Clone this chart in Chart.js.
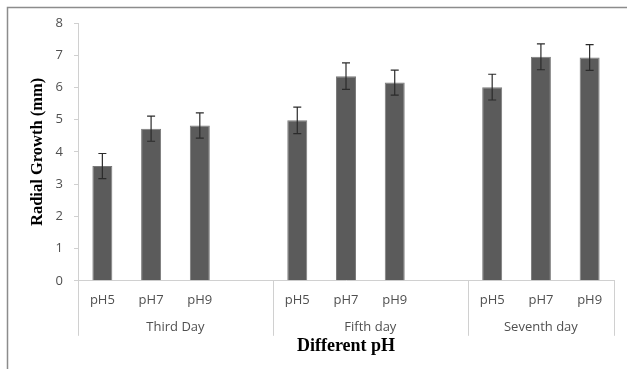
<!DOCTYPE html>
<html>
<head>
<meta charset="utf-8">
<script src="https://cdn.jsdelivr.net/npm/chart.js@4/dist/chart.umd.min.js"></script>
<style>
  html, body { margin: 0; padding: 0; background: #fff; }
  #wrap { width: 627px; height: 369px; position: relative; }
</style>
</head>
<body>
<div id="wrap"><canvas id="chart"></canvas></div>
<script>
// values
const groups = ["Third Day", "Fifth day", "Seventh day"];
const phLevels = ["pH5", "pH7", "pH9"];
const thirdDay = [3.56, 4.72, 4.82];
const fifthDay = [4.98, 6.35, 6.15];
const seventhDay = [6.01, 6.95, 6.93];
const thirdErr = [0.39, 0.39, 0.39];
const fifthErr = [0.41, 0.41, 0.39];
const seventhErr = [0.40, 0.40, 0.40];
const yTicks = [0, 1, 2, 3, 4, 5, 6, 7, 8];

// flatten with an empty slot between groups (like the Excel original)
const series = [thirdDay, fifthDay, seventhDay];
const errs = [thirdErr, fifthErr, seventhErr];
const labels = [], values = [], errors = [], spans = [];
series.forEach((vals, g) => {
  const start = labels.length;
  vals.forEach((v, i) => { labels.push(phLevels[i]); values.push(v); errors.push(errs[g][i]); });
  if (g < series.length - 1) { labels.push(""); values.push(null); errors.push(null); }
  spans.push([start, labels.length - 1]);
});

const axisGray = "#d0d0d0";
const textGray = "#505050";

const extras = {
  id: "extras",
  beforeDraw(chart) {
    const ctx = chart.ctx;
    ctx.save();
    ctx.strokeStyle = "#8c8c8c";
    ctx.lineWidth = 1.5;
    ctx.beginPath();
    ctx.moveTo(7.5, chart.height);
    ctx.lineTo(7.5, 7.5);
    ctx.lineTo(chart.width, 7.5);
    ctx.stroke();
    ctx.restore();
  },
  afterDraw(chart) {
    const ctx = chart.ctx;
    const x = chart.scales.x, y = chart.scales.y;
    const area = chart.chartArea;
    const half = (x.getPixelForValue(1) - x.getPixelForValue(0)) / 2;
    ctx.save();
    // group separators and labels
    ctx.strokeStyle = axisGray;
    ctx.lineWidth = 1;
    ctx.fillStyle = textGray;
    ctx.font = "13px 'Open Sans'";
    ctx.textAlign = "center";
    ctx.textBaseline = "middle";
    const edges = new Set();
    spans.forEach(([a, b], g) => {
      const left = x.getPixelForValue(a) - half;
      const right = x.getPixelForValue(b) + half;
      edges.add(Math.round(left)); edges.add(Math.round(right));
      ctx.fillText(groups[g], (left + right) / 2, area.bottom + 46);
    });
    edges.forEach(px => {
      ctx.beginPath();
      ctx.moveTo(px + 0.5, area.bottom);
      ctx.lineTo(px + 0.5, area.bottom + 55);
      ctx.stroke();
    });
    // error bars
    const meta = chart.getDatasetMeta(0);
    ctx.strokeStyle = "#2b2b2b";
    ctx.lineWidth = 1.2;
    meta.data.forEach((bar, i) => {
      if (values[i] == null) return;
      const top = y.getPixelForValue(values[i] + errors[i]);
      const bot = y.getPixelForValue(values[i] - errors[i]);
      ctx.beginPath();
      ctx.moveTo(bar.x, top); ctx.lineTo(bar.x, bot);
      ctx.moveTo(bar.x - 4, top); ctx.lineTo(bar.x + 4, top);
      ctx.moveTo(bar.x - 4, bot); ctx.lineTo(bar.x + 4, bot);
      ctx.stroke();
    });
    ctx.restore();
  }
};

new Chart(document.getElementById("chart"), {
  type: "bar",
  data: {
    labels: labels,
    datasets: [{
      data: values,
      backgroundColor: "#5b5b5b",
      borderColor: "#7a7a7a",
      borderWidth: 1,
      barPercentage: 0.41,
      categoryPercentage: 1
    }]
  },
  options: {
    responsive: true,
    maintainAspectRatio: false,
    animation: false,
    layout: { padding: { left: 0, top: 23, right: 13, bottom: 12 } },
    plugins: { legend: { display: false }, tooltip: { enabled: false } },
    scales: {
      x: {
        grid: { display: false, drawTicks: false },
        border: { display: true, color: axisGray, width: 1 },
        ticks: { color: textGray, font: { family: "'Open Sans'", size: 13 }, padding: 12, maxRotation: 0, autoSkip: false },
        title: {
          display: true, text: "Different pH", color: "#000",
          font: { family: "'Liberation Serif'", size: 18, weight: "bold" },
          padding: { top: 15, bottom: 0 }
        }
      },
      y: {
        min: 0, max: 8,
        afterFit(scale) { scale.width = 78; },
        afterBuildTicks(scale) { scale.ticks = yTicks.map(v => ({ value: v })); },
        grid: { drawOnChartArea: false, drawTicks: true, tickLength: 4, color: axisGray },
        border: { display: true, color: axisGray, width: 1 },
        ticks: { color: textGray, font: { family: "'Open Sans'", size: 13 }, padding: 11 },
        title: {
          display: true, text: "Radial Growth (mm)", color: "#000",
          font: { family: "'Liberation Serif'", size: 16.5, weight: "bold" },
          padding: { top: 28, bottom: 0 }
        }
      }
    }
  },
  plugins: [extras]
});
</script>
</body>
</html>
